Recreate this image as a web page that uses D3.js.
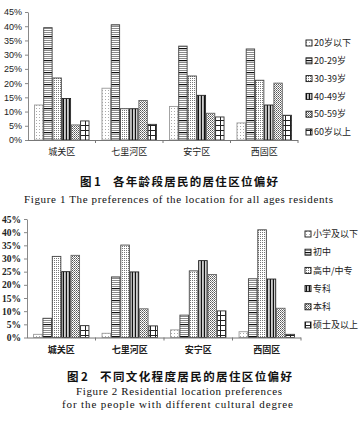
<!DOCTYPE html>
<html><head><meta charset="utf-8">
<script src="https://cdn.jsdelivr.net/npm/d3@7"></script>
<style>
html,body{margin:0;padding:0;background:#fff;}
svg{display:block;}
</style></head>
<body>
<script>
// ---------- DATA ----------
const categories = ["城关区","七里河区","安宁区","西固区"];

const ageSeries = ["20岁以下","20-29岁","30-39岁","40-49岁","50-59岁","60岁以上"];
const age_under20 = [12.3, 18.2, 11.8, 6.0];
const age_20_29   = [39.5, 40.5, 33.0, 32.0];
const age_30_39   = [21.8, 11.0, 22.5, 21.0];
const age_40_49   = [14.6, 11.0, 15.7, 12.3];
const age_50_59   = [5.3, 13.9, 9.4, 20.0];
const age_over60  = [6.7, 5.5, 8.1, 8.7];

const eduSeries = ["小学及以下","初中","高中/中专","专科","本科","硕士及以上"];
const edu_primary  = [1.2, 1.6, 2.9, 2.2];
const edu_junior   = [7.3, 23.0, 8.5, 22.3];
const edu_senior   = [30.8, 35.1, 25.3, 40.9];
const edu_college  = [25.0, 24.9, 29.2, 22.2];
const edu_bachelor = [31.2, 10.9, 23.9, 11.1];
const edu_master   = [4.5, 4.4, 10.1, 1.2];

const yTicks = [0,5,10,15,20,25,30,35,40,45];

const fig1Title = "各年龄段居民的居住区位偏好";
const fig1En = "Figure 1 The preferences of the location for all ages residents";
const fig2Title = "不同文化程度居民的居住区位偏好";
const fig2En1 = "Figure 2 Residential location preferences";
const fig2En2 = "for the people with different cultural degree";

// ---------- SVG ----------
const W = 360, H = 423;
const svg = d3.select("body").append("svg").attr("width", W).attr("height", H)
  .style("background", "#fff");
const defs = svg.append("defs");

function pat(id, w, h, draw) {
  const p = defs.append("pattern").attr("id", id).attr("patternUnits", "userSpaceOnUse")
    .attr("width", w).attr("height", h);
  p.append("rect").attr("width", w).attr("height", h).attr("fill", "#fff");
  draw(p);
}
pat("p0", 3, 3, p => {
  p.append("rect").attr("x", 0).attr("y", 0).attr("width", 1).attr("height", 1).attr("fill", "#aaa");
});
pat("p1", 4, 12, p => {
  [2,4,6,8,10].forEach(y => p.append("rect").attr("x",0).attr("y",y).attr("width",4).attr("height",1).attr("fill","#8a8a8a"));
  p.append("rect").attr("x",0).attr("y",0).attr("width",4).attr("height",1.2).attr("fill","#111");
});
pat("p2", 2, 2, p => {
  p.append("rect").attr("x",0).attr("y",0).attr("width",1).attr("height",1).attr("fill","#777");
});
pat("p3", 3, 4, p => {
  p.append("rect").attr("x",0).attr("y",0).attr("width",1.2).attr("height",4).attr("fill","#111");
  p.append("rect").attr("x",2).attr("y",0).attr("width",0.8).attr("height",4).attr("fill","#999");
});
pat("p4", 2, 2, p => {
  p.append("rect").attr("x",0).attr("y",0).attr("width",1).attr("height",1).attr("fill","#555");
  p.append("rect").attr("x",1).attr("y",1).attr("width",1).attr("height",1).attr("fill","#888");
});
pat("p5", 5, 5, p => {
  p.append("rect").attr("x",0).attr("y",0).attr("width",5).attr("height",1).attr("fill","#222");
  p.append("rect").attr("x",0).attr("y",0).attr("width",1).attr("height",5).attr("fill","#222");
});
const fills = ["url(#p0)","url(#p1)","url(#p2)","url(#p3)","url(#p4)","url(#p5)"];
const strokes = ["#999","#444","#444","#222","#666","#333"];

function drawChart(cfg) {
  const g = svg.append("g");
  const x = d3.scaleBand().domain(categories).range([cfg.x0, cfg.x1])
    .paddingInner(0.18).paddingOuter(0.09);
  const xs = d3.scaleBand().domain(cfg.series).range([0, x.bandwidth()]);
  const y = d3.scaleLinear().domain([0, 45]).range([cfg.yBase, cfg.yTop]);

  const ya = g.append("g").attr("transform", `translate(${cfg.x0},0)`)
    .call(d3.axisLeft(y).tickValues(yTicks).tickFormat(d => d + "%").tickSize(3).tickSizeOuter(0).tickPadding(3));
  ya.select(".domain").attr("stroke", "#888");
  ya.selectAll(".tick line").attr("stroke", "#888");
  ya.selectAll("text").attr("font-family", cfg.tickFont).attr("font-size", cfg.tickSize)
    .attr("font-weight", cfg.tickWeight).attr("fill", "#222");

  cfg.series.forEach((s, si) => {
    g.append("g").selectAll("rect").data(cfg.values[si]).join("rect")
      .attr("x", (d, i) => x(categories[i]) + xs(s) + 0.4)
      .attr("y", d => y(d))
      .attr("width", xs.bandwidth() - 0.8)
      .attr("height", d => y(0) - y(d))
      .attr("fill", fills[si])
      .attr("stroke", strokes[si]).attr("stroke-width", 0.9);
  });

  g.append("line").attr("x1", cfg.x0).attr("x2", cfg.x1).attr("y1", y(0) + 0.5).attr("y2", y(0) + 0.5)
    .attr("stroke", "#777").attr("stroke-width", 1);
  const bounds = categories.map((c, i) => cfg.x0 + x.step() * (i + 1));
  g.selectAll(".xt").data(bounds).join("line")
    .attr("x1", d => d).attr("x2", d => d).attr("y1", y(0)).attr("y2", y(0) + 3)
    .attr("stroke", "#777");
  g.selectAll(".cl").data(categories).join("text")
    .attr("x", d => x(d) + x.bandwidth() / 2).attr("y", cfg.catY)
    .attr("text-anchor", "middle").attr("font-family", "Noto Sans CJK SC")
    .attr("font-size", 9).attr("font-weight", cfg.catWeight).attr("fill", "#222").text(d => d);

  const lg = g.append("g");
  cfg.series.forEach((s, si) => {
    const ly = cfg.legY0 + si * cfg.legStep;
    lg.append("rect").attr("x", cfg.legX).attr("y", ly - 3).attr("width", 6).attr("height", 6)
      .attr("fill", fills[si]).attr("stroke", "#111").attr("stroke-width", 0.9);
    lg.append("text").attr("x", cfg.legX + 8).attr("y", ly).attr("dy", "0.35em")
      .attr("font-family", "Noto Sans CJK SC, Liberation Sans").attr("font-size", 9)
      .attr("fill", "#222").text(s);
  });
}

drawChart({
  series: ageSeries,
  values: [age_under20, age_20_29, age_30_39, age_40_49, age_50_59, age_over60],
  x0: 28, x1: 298, yBase: 140, yTop: 12,
  tickFont: "Liberation Sans, Arial", tickSize: 9, tickWeight: "normal",
  catY: 155, catWeight: "normal",
  legX: 306, legY0: 43, legStep: 17.8
});

drawChart({
  series: eduSeries,
  values: [edu_primary, edu_junior, edu_senior, edu_college, edu_bachelor, edu_master],
  x0: 27, x1: 301, yBase: 337.5, yTop: 219,
  tickFont: "Liberation Serif, Times New Roman", tickSize: 9.5, tickWeight: "bold",
  catY: 353, catWeight: "bold",
  legX: 305, legY0: 234, legStep: 18.2
});

function cap(num, numX, title, tX, tEnd, yy) {
  svg.append("text").attr("x", numX).attr("y", yy).attr("font-family", "Noto Sans CJK SC")
    .attr("font-size", 11.5).attr("font-weight", "bold").attr("fill", "#111").text("图 " + num);
  svg.append("text").attr("x", tX).attr("y", yy).attr("font-family", "Noto Sans CJK SC")
    .attr("font-size", 11.5).attr("font-weight", "bold").attr("fill", "#111")
    .attr("textLength", tEnd - tX).attr("lengthAdjust", "spacing").text(title);
}
function enLine(txt, x0, x1, yy) {
  svg.append("text").attr("x", x0).attr("y", yy).attr("font-family", "Liberation Serif, Times New Roman")
    .attr("font-size", 11).attr("fill", "#111")
    .attr("textLength", x1 - x0).attr("lengthAdjust", "spacing").text(txt);
}
cap(1, 80, fig1Title, 113, 278, 186);
enLine(fig1En, 24, 333, 203);
cap(2, 67, fig2Title, 100, 292, 381);
enLine(fig2En1, 76, 282, 395);
enLine(fig2En2, 62, 293, 408);
</script>
</body></html>
